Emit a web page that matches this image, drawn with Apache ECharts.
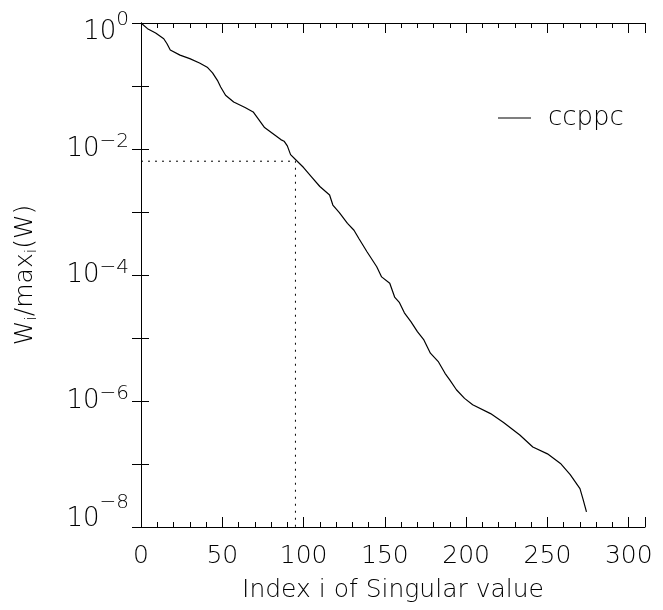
<!DOCTYPE html>
<html>
<head>
<meta charset="utf-8">
<script src="https://cdn.jsdelivr.net/npm/echarts@6/dist/echarts.min.js"></script>
<style>
html,body{margin:0;padding:0;background:#fff;}
#chart{width:663px;height:610px;}
</style>
</head>
<body>
<div id="chart"></div>
<script>
// ---- data ----
var seriesName = 'ccppc';
var index = [0, 4, 9, 14, 16, 18, 24, 30, 36, 41, 44, 47, 49, 52, 57, 64, 69, 72, 76, 81,
  86, 88, 90, 92, 95, 100, 105, 110, 116, 118, 122, 127, 131, 134, 139, 145, 148, 153, 156, 159,
  162, 166, 170, 174, 178, 183, 187, 190, 194, 199, 204, 215, 223, 233, 241, 250, 258, 264, 267, 270,
  272, 274];
var ratio = [1.0, 0.813, 0.692, 0.562, 0.468, 0.372, 0.309, 0.272, 0.232, 0.196, 0.162, 0.123, 0.0966, 0.0713, 0.0558, 0.0455, 0.0387, 0.0304, 0.0219, 0.0176,
  0.0141, 0.0133, 0.0112, 0.00813, 0.00681, 0.00508, 0.00359, 0.00254, 0.00186, 0.00129, 9.77e-4, 6.61e-4, 5.13e-4, 3.80e-4, 2.34e-4, 1.35e-4, 9.33e-5, 7.41e-5, 4.47e-5, 3.63e-5,
  2.51e-5, 1.82e-5, 1.26e-5, 9.33e-6, 5.75e-6, 4.17e-6, 2.75e-6, 2.14e-6, 1.51e-6, 1.10e-6, 8.71e-7, 6.31e-7, 4.57e-7, 2.88e-7, 1.86e-7, 1.45e-7, 1.02e-7, 6.76e-8, 5.25e-8, 4.07e-8,
  2.69e-8, 1.74e-8];
var refIndex = 95;        // dotted marker: index
var refRatio = 0.0064;    // dotted marker: level
var xMin = 0, xMax = 310;
var yMin = 1e-8, yMax = 1;
var xTickLabels = [0, 50, 100, 150, 200, 250, 300];
var yLabelExponents = [0, -2, -4, -6, -8];
var xTitle = 'Index i of Singular value';

// ---- build ----
var FONT = "'DejaVu Sans', sans-serif";
var FW = 200;
var lineData = index.map(function (x, k) { return [x, ratio[k]]; });
var refData = [[xMin, refRatio], [refIndex, refRatio], [refIndex, yMin]];

var supMinus = '\u2212';
function yLabel(v) {
  var e = Math.round(Math.log10(v));
  if (yLabelExponents.indexOf(e) < 0) return '';
  var s = e === 0 ? '0' : supMinus + String(-e);
  if (e === 0) return '{bt|10}{st|' + s + '}';
  if (e === -8) return '{bb|10}{sb|' + s + '}';
  return '{b|10}{s|' + s + '}';
}
var baseTxt = {fontFamily: FONT, fontWeight: FW, color: '#000'};
function mk(o) { var r = {}; for (var k in baseTxt) r[k] = baseTxt[k]; for (var k2 in o) r[k2] = o[k2]; return r; }

var chart = echarts.init(document.getElementById('chart'), null, {renderer: 'canvas'});
var gridRect = {left: 141, top: 23, right: 18, bottom: 83};
var black = {color: '#000', width: 1};

var option = {
  animation: false,
  backgroundColor: '#fff',
  grid: [
    Object.assign({}, gridRect),
    Object.assign({}, gridRect)
  ],
  legend: {
    data: [{name: seriesName, icon: 'rect'}],
    left: 493, top: 100,
    itemWidth: 33, itemHeight: 1,
    textStyle: {fontFamily: FONT, fontWeight: FW, fontSize: 26, color: '#000', padding: [0, 0, 0, 12]},
    selectedMode: false
  },
  xAxis: [
    {
      type: 'value', gridIndex: 0, position: 'bottom', min: xMin, max: xMax, interval: 50,
      axisLine: {show: true, lineStyle: black},
      axisTick: {show: true, inside: true, length: 10, lineStyle: black},
      axisLabel: {
        margin: 17, fontFamily: FONT, fontWeight: FW, fontSize: 25, color: '#000',
        formatter: function (v) { return xTickLabels.indexOf(v) >= 0 ? String(v) : ''; }
      },
      splitLine: {show: false},
      name: xTitle, nameLocation: 'middle', nameGap: 51,
      nameTextStyle: {fontFamily: FONT, fontWeight: FW, fontSize: 25, color: '#000'}
    },
    {
      type: 'value', gridIndex: 0, position: 'top', min: xMin, max: xMax, interval: 50,
      axisLine: {show: true, lineStyle: black},
      axisTick: {show: true, inside: true, length: 10, lineStyle: black},
      axisLabel: {show: false}, splitLine: {show: false}
    },
    {
      type: 'value', gridIndex: 1, position: 'bottom', min: xMin, max: xMax, interval: 10,
      axisLine: {show: false},
      axisTick: {show: true, inside: true, length: 5, lineStyle: black},
      axisLabel: {show: false}, splitLine: {show: false}
    },
    {
      type: 'value', gridIndex: 1, position: 'top', min: xMin, max: xMax, interval: 10,
      axisLine: {show: false},
      axisTick: {show: true, inside: true, length: 5, lineStyle: black},
      axisLabel: {show: false}, splitLine: {show: false}
    }
  ],
  yAxis: [
    {
      type: 'log', logBase: 10, gridIndex: 0, position: 'left', min: yMin, max: yMax, interval: 1,
      axisLine: {show: true, lineStyle: black},
      axisTick: {show: true, inside: true, length: 8, lineStyle: black},
      splitLine: {show: false},
      axisLabel: {
        margin: 12,
        formatter: yLabel,
        rich: {
          b: mk({fontSize: 26, lineHeight: 34}),
          s: mk({fontSize: 20, lineHeight: 20, verticalAlign: 'top'}),
          bt: mk({fontSize: 26, lineHeight: 45, verticalAlign: 'bottom'}),
          st: mk({fontSize: 20, lineHeight: 20, verticalAlign: 'top', padding: [9, 0, 0, 0]}),
          bb: mk({fontSize: 26, lineHeight: 20, verticalAlign: 'top', padding: [14, 0, 0, 0]}),
          sb: mk({fontSize: 20, lineHeight: 69, verticalAlign: 'top'})
        }
      },
      name: '{a|W}{u|i}{a|/max}{u|i}{a|(W)}',
      nameLocation: 'middle', nameRotate: 90, nameGap: 101,
      nameTextStyle: {
        rich: {
          a: mk({fontSize: 25, lineHeight: 30, verticalAlign: 'middle'}),
          u: mk({fontSize: 16, lineHeight: 16, verticalAlign: 'bottom'})
        }
      }
    },
    {
      type: 'log', logBase: 10, gridIndex: 0, position: 'right', min: yMin, max: yMax, interval: 1,
      axisLine: {show: true, lineStyle: black},
      axisTick: {show: true, inside: true, length: 9, lineStyle: black},
      axisLabel: {show: false}, splitLine: {show: false}
    },
    {
      type: 'value', gridIndex: 1, show: false, min: 0, max: 1
    }
  ],
  series: [
    {
      name: seriesName, type: 'line', xAxisIndex: 0, yAxisIndex: 0,
      data: lineData, symbol: 'none', smooth: false,
      lineStyle: {color: '#000', width: 1.2},
      itemStyle: {color: '#000'}
    },
    {
      name: 'ref', type: 'line', xAxisIndex: 0, yAxisIndex: 0,
      data: refData, symbol: 'none', silent: true,
      lineStyle: {color: '#000', width: 1, type: [2, 5]},
      itemStyle: {color: '#000'}
    }
  ]
};
chart.setOption(option);
</script>
</body>
</html>
